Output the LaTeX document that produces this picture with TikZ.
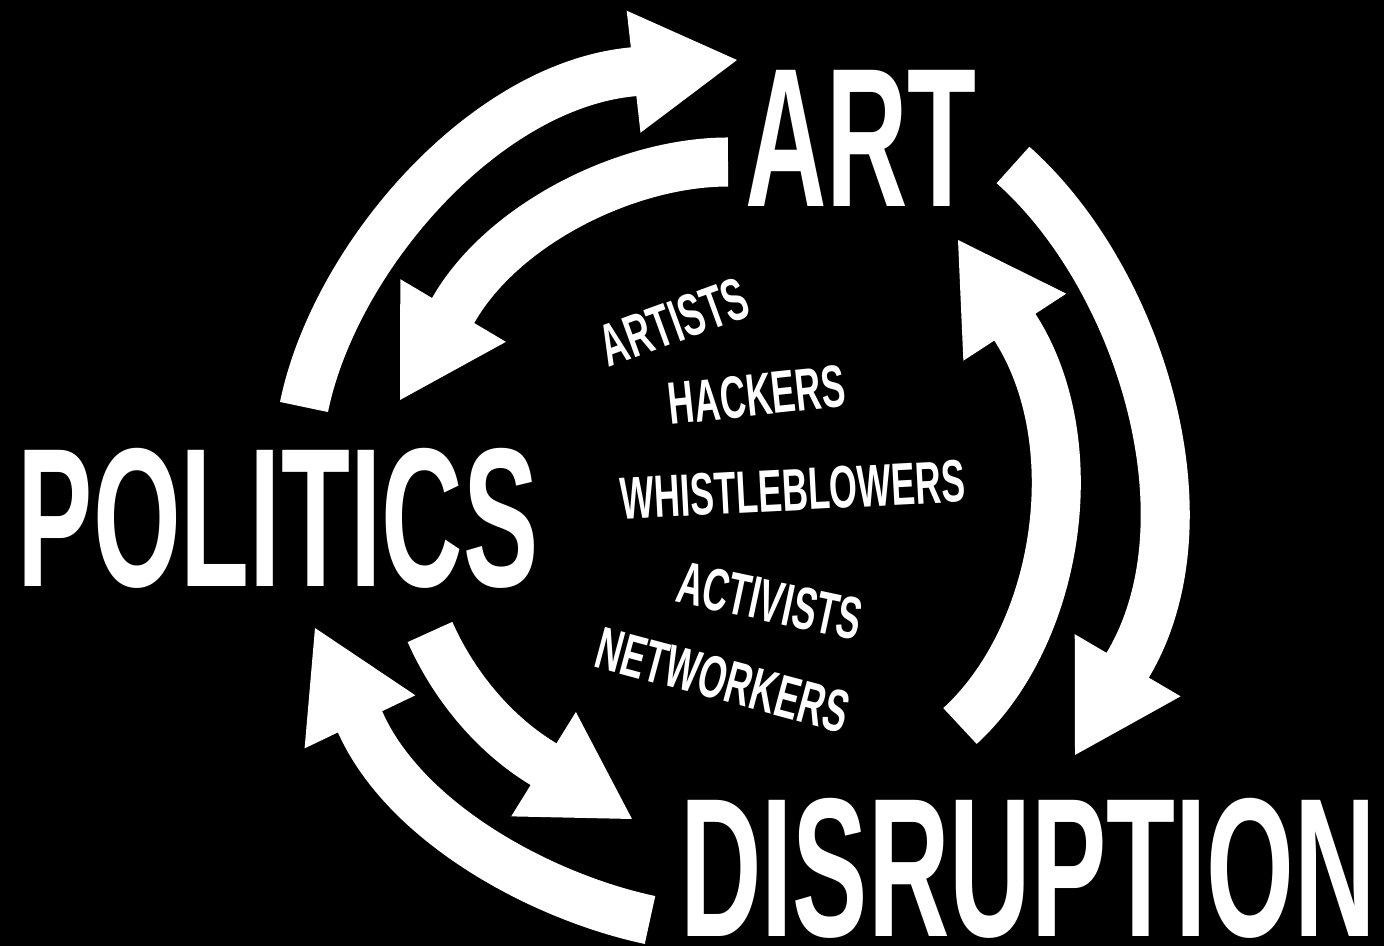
\documentclass[tikz,border=0pt]{standalone}
\usepackage{fontspec}
\usetikzlibrary{arrows.meta}
\newfontfamily\headfont[FakeStretch=0.57]{Liberation Sans Bold}
\newfontfamily\crowdfont[FakeStretch=0.6]{Liberation Sans Bold}
\definecolor{cInk}{HTML}{FFFFFF}
\definecolor{cBg}{HTML}{000000}
\tikzset{
    bigword/.style ={text=cInk, inner sep=0pt, anchor=base,
                     font=\headfont\fontsize{56.3pt}{60pt}\selectfont},
    crowd/.style   ={text=cInk, inner sep=0pt,
                     font=\crowdfont\fontsize{17pt}{20pt}\selectfont},
    cycarrow/.style={draw=cInk, line width=0.49cm, line join=round,
                     -{Triangle[length=1.04cm, width=1.22cm, line width=0.03cm]}},
}

\begin{document}
\begin{tikzpicture}[x=0.01cm, y=-0.01cm]

% ===================== Fondo =====================
\fill[cBg] (0,0) rectangle (1384,946);

% ===================== Las tres palabras =====================
\node[bigword] (art)        at (861,207)  {ART};
\node[bigword] (politics)   at (278,587)  {POLITICS};
\node[bigword] (disruption) at (1028,936) {DISRUPTION};

% ===================== Quienes estan en medio =====================
\node[crowd, rotate=20]  (artists)    at (674,322) {ARTISTS};
\node[crowd, rotate=6]   (hackers)    at (757,395) {HACKERS};
\node[crowd, rotate=3]   (whistle)    at (793,490) {WHISTLEBLOWERS};
\node[crowd, rotate=-12] (activists)  at (770,601) {ACTIVISTS};
\node[crowd, rotate=-15] (networkers) at (723,680) {NETWORKERS};

% ===================== Extremos de las flechas =====================
\coordinate (a1s) at (304,407);  \coordinate (a1b) at (631,72);  \coordinate (a1t) at (737,60);
\coordinate (a2s) at (728,162);  \coordinate (a2b) at (454,309); \coordinate (a2t) at (400,400);
\coordinate (a3s) at (1013,165); \coordinate (a3b) at (1129,663); \coordinate (a3t) at (1075,755);
\coordinate (a4s) at (960,726);  \coordinate (a4b) at (1016,329); \coordinate (a4t) at (958,240);
\coordinate (a5s) at (650,920);  \coordinate (a5b) at (361,724); \coordinate (a5t) at (315,628);
\coordinate (a6s) at (430,632);  \coordinate (a6b) at (540,762); \coordinate (a6t) at (632,819);

% ===================== Politics <-> Art =====================
\draw[cycarrow] (a1s) .. controls (334,260) and (482,87) .. (a1b) -- (a1t);
\draw[cycarrow] (a2s) .. controls (628,162) and (504,223) .. (a2b) -- (a2t);

% ===================== Art <-> Disruption =====================
\draw[cycarrow] (a3s) .. controls (1139,277) and (1214,517) .. (a3b) -- (a3t);
\draw[cycarrow] (a4s) .. controls (1060,634) and (1088,443) .. (a4b) -- (a4t);

% ===================== Disruption <-> Politics =====================
\draw[cycarrow] (a5s) .. controls (542,897) and (407,824) .. (a5b) -- (a5t);
\draw[cycarrow] (a6s) .. controls (453,684) and (492,732) .. (a6b) -- (a6t);

\end{tikzpicture}
\end{document}
